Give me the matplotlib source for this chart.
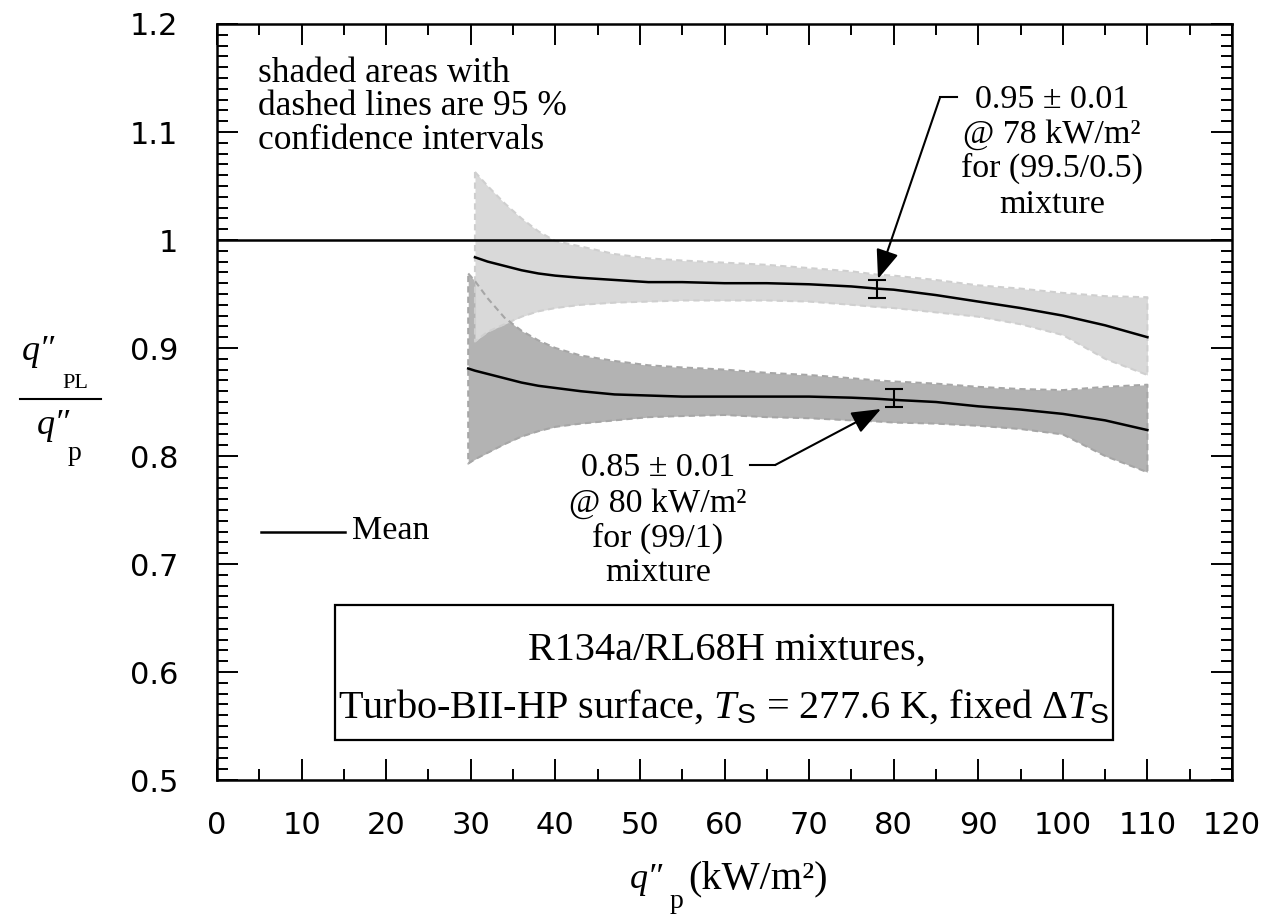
import matplotlib
matplotlib.use("Agg")
import matplotlib.pyplot as plt
from matplotlib.patches import Rectangle
from matplotlib.lines import Line2D
from matplotlib.ticker import MultipleLocator, FuncFormatter

plt.rcParams['mathtext.fontset'] = 'custom'
plt.rcParams['mathtext.rm'] = 'Liberation Serif'
plt.rcParams['mathtext.it'] = 'Liberation Serif:italic'
plt.rcParams['mathtext.sf'] = 'Liberation Sans'

W, H = 1277, 922
SERIF = ['Liberation Serif', 'DejaVu Serif']

# heat flux grids (kW/m^2)
x_light = [30.5, 32, 34, 36, 38, 40, 43, 47, 51, 55, 60, 65, 70, 75, 78, 80, 85, 90, 95, 100, 105, 110]
x_dark = [29.7] + x_light

# (99.5/0.5) mixture : mean + 95 % confidence band
mean_995 = [0.984, 0.980, 0.976, 0.972, 0.969, 0.967, 0.965, 0.963, 0.961, 0.961, 0.960,
            0.960, 0.959, 0.957, 0.955, 0.954, 0.949, 0.943, 0.937, 0.930, 0.921, 0.910]
hi_995 = [1.063, 1.050, 1.034, 1.020, 1.008, 0.999, 0.994, 0.987, 0.983, 0.981, 0.979,
          0.977, 0.974, 0.971, 0.968, 0.967, 0.963, 0.958, 0.955, 0.951, 0.948, 0.947]
lo_995 = [0.906, 0.915, 0.922, 0.929, 0.934, 0.937, 0.940, 0.942, 0.943, 0.944, 0.944,
          0.944, 0.943, 0.940, 0.938, 0.937, 0.933, 0.929, 0.922, 0.912, 0.890, 0.875]

# (99/1) mixture
mean_99 = [0.881, 0.879, 0.876, 0.872, 0.868, 0.865, 0.863, 0.860, 0.857, 0.856, 0.855, 0.855,
           0.855, 0.855, 0.854, 0.853, 0.852, 0.850, 0.846, 0.843, 0.839, 0.833, 0.824]
hi_99 = [0.969, 0.962, 0.946, 0.928, 0.916, 0.907, 0.900, 0.893, 0.888, 0.884, 0.882, 0.880,
         0.877, 0.875, 0.872, 0.870, 0.869, 0.867, 0.864, 0.862, 0.861, 0.864, 0.866]
lo_99 = [0.793, 0.797, 0.803, 0.811, 0.818, 0.823, 0.827, 0.830, 0.833, 0.836, 0.837, 0.838,
         0.836, 0.835, 0.833, 0.832, 0.831, 0.830, 0.828, 0.825, 0.820, 0.800, 0.785]

# single values with uncertainty
pt_x = [78, 80]
pt_y = [0.9545, 0.8535]
pt_err = [0.0085, 0.0085]


def fx(px):
    return px / W


def fy(py):
    return 1 - py / H


fig = plt.figure(figsize=(W / 100, H / 100), dpi=100)
ax = fig.add_axes([fx(217), fy(780), (1232 - 217) / W, (780 - 24) / H])

# bands (dark first, light on top)
ax.fill_between(x_dark, lo_99, hi_99, color='#b3b3b3', lw=0, zorder=1)
ax.fill_between(x_light, lo_995, hi_995, color='#d9d9d9', lw=0, zorder=2)
for xs, lo, hi, c in [(x_light, lo_995, hi_995, '#cfcfcf'), (x_dark, lo_99, hi_99, '#a6a6a6')]:
    ox = xs + xs[::-1] + [xs[0]]
    oy = hi + lo[::-1] + [hi[0]]
    ax.plot(ox, oy, color=c, lw=1.5, ls=(0, (3, 2)), zorder=3)

ax.axhline(1.0, color='k', lw=1.8, zorder=4)
ax.plot(x_light, mean_995, color='k', lw=1.8, zorder=4)
ax.plot(x_dark, mean_99, color='k', lw=1.8, zorder=4)
ax.errorbar(pt_x, pt_y, yerr=pt_err, fmt='none', ecolor='k', elinewidth=1.5,
            capsize=6.5, capthick=1.5, zorder=5)

# annotations with arrows
arrow = dict(arrowstyle='-|>,head_length=0.9,head_width=0.35', color='k', lw=1.5,
             shrinkA=0, shrinkB=0, mutation_scale=20)
ax.plot([87.5, 85.5], [1.1324, 1.1324], color='k', lw=1.5)
ax.annotate('', xy=(78.15, 0.964), xytext=(85.5, 1.1324), arrowprops=arrow, zorder=6)
ax.plot([63.0, 66.0], [0.7917, 0.7917], color='k', lw=1.5)
ax.annotate('', xy=(78.5, 0.8435), xytext=(66.0, 0.7917), arrowprops=arrow, zorder=6)

upper_txt = ['0.95 ± 0.01', '@ 78 kW/m²', 'for (99.5/0.5)', 'mixture']
for t, yb in zip(upper_txt, [1.1222, 1.0898, 1.0583, 1.025]):
    ax.text(98.7, yb, t, ha='center', va='baseline', fontsize=24.5, family=SERIF)

lower_txt = ['0.85 ± 0.01', '@ 80 kW/m²', 'for (99/1)', 'mixture']
for t, yb in zip(lower_txt, [0.7815, 0.7481, 0.7157, 0.6843]):
    ax.text(52.1, yb, t, ha='center', va='baseline', fontsize=24.5, family=SERIF)

note = ['shaded areas with', 'dashed lines are 95 %', 'confidence intervals']
for t, yb in zip(note, [1.146, 1.1155, 1.084]):
    ax.text(4.85, yb, t, ha='left', va='baseline', fontsize=25.5, family=SERIF)

# legend for the mean line
ax.plot([5.2, 15.1], [0.7296, 0.7296], color='k', lw=1.8)
ax.text(15.96, 0.723, 'Mean', va='baseline', fontsize=24.5, family=SERIF)

# info box
ax.add_patch(Rectangle((13.95, 0.537), 105.9 - 13.95, 0.662 - 0.537, fill=False,
                       ec='k', lw=1.6, zorder=6))
ax.text(60.3, 0.611, 'R134a/RL68H mixtures,', ha='center', va='baseline',
        fontsize=29, family=SERIF)
ax.text(59.9, 0.5575, r'Turbo-BII-HP surface, $T_{\mathsf{S}}$ = 277.6 K, fixed Δ$T_{\mathsf{S}}$',
        ha='center', va='baseline', fontsize=29, family=SERIF)

# axes
ax.set_xlim(0, 120)
ax.set_ylim(0.5, 1.2)
ax.xaxis.set_major_locator(MultipleLocator(10))
ax.xaxis.set_minor_locator(MultipleLocator(5))
ax.yaxis.set_major_locator(MultipleLocator(0.1))
ax.yaxis.set_minor_locator(MultipleLocator(0.01))
ax.yaxis.set_major_formatter(FuncFormatter(lambda v, p: f'{v:g}'))
ax.tick_params(which='both', direction='in', top=True, right=True, width=1.4)
ax.tick_params(which='major', length=15)
ax.tick_params(which='minor', length=8)
ax.tick_params(axis='x', labelsize=22, pad=22)
ax.tick_params(axis='y', labelsize=22, pad=28)
for lab in ax.get_xticklabels() + ax.get_yticklabels():
    lab.set_family('DejaVu Sans')
for s in ax.spines.values():
    s.set_linewidth(1.8)

# y label as a fraction
fig.text(fx(22), fy(360), 'q\u2033', fontsize=26, style='italic', family=SERIF, va='baseline')
fig.text(fx(62), fy(388), 'PL', fontsize=16, family=SERIF, va='baseline')
fig.add_artist(Line2D([fx(20), fx(101)], [fy(399), fy(399)], color='k', lw=1.5))
fig.text(fx(37), fy(434), 'q\u2033', fontsize=26, style='italic', family=SERIF, va='baseline')
fig.text(fx(68), fy(460), 'p', fontsize=20, family=SERIF, va='baseline')

# x label
fig.text(fx(630), fy(888), 'q\u2033', fontsize=26, style='italic', family=SERIF, va='baseline')
fig.text(fx(670), fy(908), 'p', fontsize=20, family=SERIF, va='baseline')
fig.text(fx(688), fy(888), '(kW/m²)', fontsize=29, family=SERIF, va='baseline')

fig.savefig('out.png', dpi=100)
